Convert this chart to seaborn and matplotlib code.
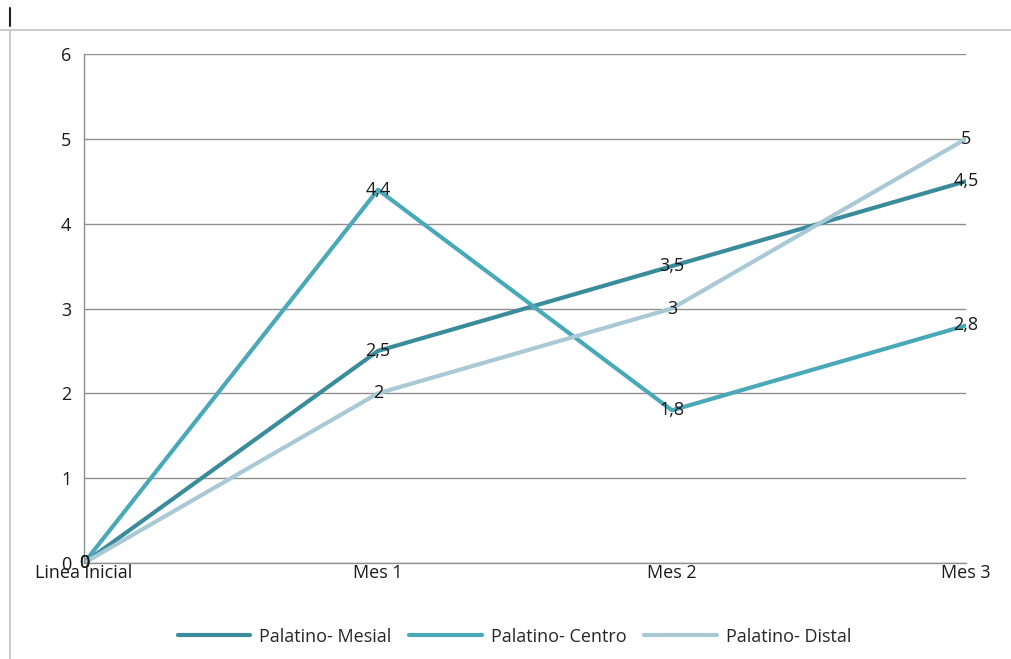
import matplotlib.pyplot as plt
import pandas as pd
import seaborn as sns
from matplotlib.lines import Line2D

# Data
categories = ['Linea inicial', 'Mes 1', 'Mes 2', 'Mes 3']
mesial = [0, 2.5, 3.5, 4.5]
centro = [0, 4.4, 1.8, 2.8]
distal = [0, 2, 3, 5]
series_names = ['Palatino- Mesial', 'Palatino- Centro', 'Palatino- Distal']
colors = ['#3b8c9a', '#4aa9b9', '#a9c9d5']

rows = []
for name, vals in zip(series_names, [mesial, centro, distal]):
    for i, (cat, v) in enumerate(zip(categories, vals)):
        rows.append({'pos': i, 'cat': cat, 'value': v, 'serie': name})
df = pd.DataFrame(rows)

sns.set_style('white')
plt.rcParams['font.family'] = ['Open Sans', 'DejaVu Sans']

fig = plt.figure(figsize=(10.12, 6.59), dpi=100)
ax = fig.add_axes([0.083, 0.1457, 0.8715, 0.7723])

sns.lineplot(data=df, x='pos', y='value', hue='serie', palette=colors,
             linewidth=3.0, sort=False, ax=ax, legend=True)

# Data labels (value labels centred on each point)
for name, vals in zip(series_names, [mesial, centro, distal]):
    for i, v in enumerate(vals):
        txt = f'{v:g}'.replace('.', ',')
        ax.text(i, v, txt, ha='center', va='center', fontsize=13, color='#1a1a1a')

ax.set_xlim(0, 3)
ax.set_ylim(0, 6)
ax.set_xticks(range(len(categories)))
ax.set_xticklabels(categories, fontsize=13)
ax.set_yticks(range(0, 7))
ax.tick_params(axis='both', length=0, labelsize=13, colors='#1a1a1a')
ax.tick_params(axis='y', pad=9)
ax.tick_params(axis='x', pad=1)
ax.yaxis.grid(True, color='#8f8f8f', linewidth=1)
ax.set_axisbelow(True)
for side in ['top', 'right']:
    ax.spines[side].set_visible(False)
for side in ['left', 'bottom']:
    ax.spines[side].set_color('#8f8f8f')
    ax.spines[side].set_linewidth(1)
ax.set_xlabel('')
ax.set_ylabel('')

ax.legend(loc='center', bbox_to_anchor=(0.488, -0.145), ncol=3, frameon=False,
          fontsize=13, handlelength=4.0, columnspacing=1.0, handletextpad=0.5)

# outer frame lines
fig.add_artist(Line2D([0.0, 1.0], [1 - 30 / 659, 1 - 30 / 659], color='#cccccc', linewidth=1.5))
fig.add_artist(Line2D([10 / 1012, 10 / 1012], [0, 1 - 30 / 659], color='#cccccc', linewidth=1.5))
fig.add_artist(Line2D([10 / 1012, 10 / 1012], [1 - 8 / 659, 1 - 26 / 659], color='#222222', linewidth=1.5))

fig.savefig('out.png', dpi=100)
